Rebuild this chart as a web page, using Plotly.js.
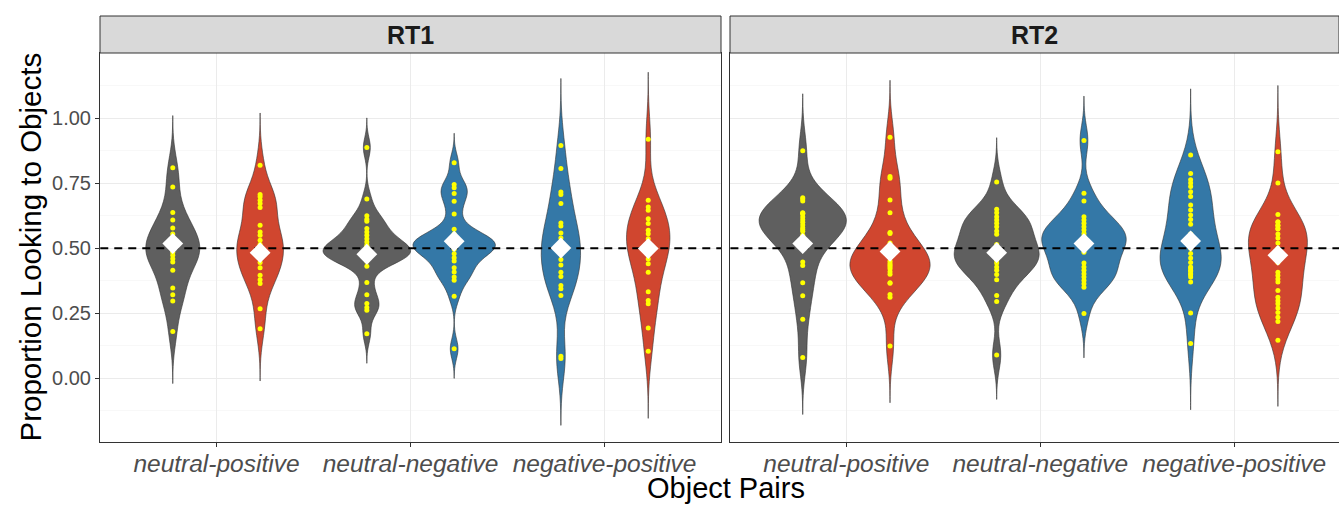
<!DOCTYPE html>
<html>
<head>
<meta charset="utf-8">
<script src="https://cdn.plot.ly/plotly-3.0.1.min.js"></script>
<style>html,body{margin:0;padding:0;background:#fff;}</style>
</head>
<body>
<div id="chart" style="width:1339px;height:505px;"></div>
<script>
// ---------------- data ----------------
const facets = ['RT1', 'RT2'];
const categories = ['neutral-positive', 'neutral-negative', 'negative-positive'];
const leftObject = ['neutral', 'neutral', 'negative'];
const rightObject = ['positive', 'negative', 'positive'];

// RT1 proportions (individual points)
const rt1_np_neutral  = [0.810, 0.736, 0.638, 0.609, 0.578, 0.555, 0.535, 0.515, 0.500, 0.485, 0.473, 0.460, 0.447, 0.415, 0.347, 0.321, 0.297, 0.180];
const rt1_np_positive = [0.820, 0.707, 0.698, 0.685, 0.672, 0.657, 0.589, 0.563, 0.550, 0.531, 0.515, 0.500, 0.485, 0.465, 0.445, 0.425, 0.396, 0.379, 0.364, 0.267, 0.190];
const rt1_nn_neutral  = [0.888, 0.690, 0.625, 0.612, 0.604, 0.576, 0.563, 0.550, 0.537, 0.524, 0.512, 0.505, 0.500, 0.495, 0.490, 0.485, 0.480, 0.475, 0.470, 0.465, 0.460, 0.450, 0.431, 0.368, 0.321, 0.287, 0.272, 0.261, 0.171];
const rt1_nn_negative = [0.829, 0.746, 0.733, 0.711, 0.681, 0.632, 0.573, 0.555, 0.545, 0.535, 0.525, 0.520, 0.515, 0.510, 0.505, 0.500, 0.496, 0.479, 0.464, 0.451, 0.425, 0.409, 0.389, 0.377, 0.315, 0.113];
const rt1_pn_negative = [0.896, 0.807, 0.717, 0.707, 0.672, 0.597, 0.586, 0.559, 0.540, 0.520, 0.500, 0.480, 0.457, 0.436, 0.408, 0.391, 0.357, 0.344, 0.318, 0.084, 0.076];
const rt1_pn_positive = [0.920, 0.685, 0.659, 0.646, 0.614, 0.595, 0.569, 0.556, 0.537, 0.520, 0.500, 0.480, 0.459, 0.440, 0.408, 0.333, 0.299, 0.286, 0.193, 0.103];

// RT2 proportions (individual points)
const rt2_np_neutral  = [0.876, 0.695, 0.690, 0.682, 0.637, 0.635, 0.632, 0.620, 0.610, 0.600, 0.590, 0.579, 0.572, 0.566, 0.550, 0.535, 0.447, 0.434, 0.367, 0.317, 0.227, 0.079];
const rt2_np_positive = [0.928, 0.776, 0.770, 0.686, 0.637, 0.561, 0.557, 0.520, 0.500, 0.480, 0.465, 0.450, 0.441, 0.435, 0.428, 0.421, 0.410, 0.400, 0.367, 0.365, 0.322, 0.311, 0.124];
const rt2_nn_neutral  = [0.755, 0.650, 0.637, 0.621, 0.609, 0.596, 0.583, 0.567, 0.554, 0.515, 0.505, 0.495, 0.485, 0.475, 0.465, 0.455, 0.443, 0.428, 0.415, 0.399, 0.379, 0.318, 0.295, 0.089];
const rt2_nn_negative = [0.915, 0.712, 0.682, 0.621, 0.609, 0.596, 0.583, 0.570, 0.557, 0.545, 0.535, 0.525, 0.515, 0.505, 0.495, 0.485, 0.443, 0.428, 0.415, 0.402, 0.389, 0.376, 0.363, 0.350, 0.249];
const rt2_pn_negative = [0.859, 0.788, 0.764, 0.751, 0.738, 0.718, 0.699, 0.667, 0.647, 0.628, 0.611, 0.593, 0.555, 0.540, 0.520, 0.510, 0.500, 0.480, 0.463, 0.445, 0.428, 0.424, 0.415, 0.411, 0.402, 0.398, 0.389, 0.370, 0.251, 0.133];
const rt2_pn_positive = [0.872, 0.751, 0.630, 0.602, 0.600, 0.589, 0.587, 0.576, 0.574, 0.555, 0.540, 0.520, 0.500, 0.490, 0.480, 0.460, 0.445, 0.408, 0.395, 0.382, 0.370, 0.337, 0.311, 0.298, 0.286, 0.270, 0.253, 0.234, 0.218, 0.146];

// means (white diamonds)
const rt1_left_means  = [0.518, 0.477, 0.501];
const rt1_right_means = [0.483, 0.527, 0.499];
const rt2_left_means  = [0.518, 0.483, 0.528];
const rt2_right_means = [0.488, 0.518, 0.473];

// kernel bandwidths (per category)
const rt1_bandwidths = [0.067, 0.038, 0.086];
const rt2_bandwidths = [0.073, 0.057, 0.085];

const chanceLevel = 0.5;
const yTicks = [0, 0.25, 0.5, 0.75, 1.0];

// ---------------- styling ----------------
const FONT = 'Liberation Sans, Arial, sans-serif';
const colorOf = { neutral: '#5F5F5F', positive: '#D0462F', negative: '#3478A7' };
const xRange1 = [0.4, 3.6];
const xRange2 = [0.4, 3.54];   // right panel is cut by the image edge
const yRange = [-0.246, 1.252];

const facetData = [
  { left: [rt1_np_neutral, rt1_nn_neutral, rt1_pn_negative], right: [rt1_np_positive, rt1_nn_negative, rt1_pn_positive],
    lm: rt1_left_means, rm: rt1_right_means, bw: rt1_bandwidths, xr: xRange1 },
  { left: [rt2_np_neutral, rt2_nn_neutral, rt2_pn_negative], right: [rt2_np_positive, rt2_nn_negative, rt2_pn_positive],
    lm: rt2_left_means, rm: rt2_right_means, bw: rt2_bandwidths, xr: xRange2 }
];

const traces = [];
const catPos = categories.map((c, i) => i + 1);

facetData.forEach((fd, f) => {
  const sx = f === 0 ? 'x' : 'x2';
  const sy = f === 0 ? 'y' : 'y2';
  categories.forEach((cat, i) => {
    [['L', fd.left[i], leftObject[i]], ['R', fd.right[i], rightObject[i]]].forEach(([grp, vals, obj]) => {
      const bw = fd.bw[i];
      const lo = Math.min(...vals) - 3 * bw;
      const hi = Math.max(...vals) + 3 * bw;
      traces.push({
        type: 'violin', x0: catPos[i], y: vals, xaxis: sx, yaxis: sy,
        offsetgroup: grp, scalegroup: facets[f], scalemode: 'width',
        bandwidth: bw, spanmode: 'manual', span: [lo, hi],
        fillcolor: colorOf[obj], opacity: 1,
        line: { color: '#333333', width: 0.6 },
        points: 'all', pointpos: 0, jitter: 0,
        marker: { color: '#FFFF00', size: 5, line: { width: 0 } },
        showlegend: false, hoverinfo: 'skip', name: facets[f] + ' ' + cat + ' ' + obj
      });
    });
  });
  // dashed chance line (between violins and diamonds)
  traces.push({
    type: 'scatter', mode: 'lines', xaxis: sx, yaxis: sy, offsetgroup: 'L',
    x: [fd.xr[0] - 1, fd.xr[1] + 1], y: [chanceLevel, chanceLevel],
    line: { color: '#000000', width: 2, dash: '8px,6px' }, showlegend: false, hoverinfo: 'skip'
  });
  // mean diamonds
  [['L', fd.lm], ['R', fd.rm]].forEach(([grp, m]) => {
    traces.push({
      type: 'scatter', mode: 'markers', xaxis: sx, yaxis: sy, offsetgroup: grp,
      x: catPos, y: m,
      marker: { symbol: 'diamond', color: '#FFFFFF', size: 16, line: { width: 0 } },
      showlegend: false, hoverinfo: 'skip'
    });
  });
});

const xCommon = {
  type: 'linear', tickvals: catPos, ticktext: categories,
  tickfont: { family: FONT, size: 24.5, color: '#4D4D4D', style: 'italic' },
  ticks: 'outside', ticklen: 4, tickcolor: '#333333', tickwidth: 1, ticklabelstandoff: -4,
  showgrid: true, gridcolor: '#EBEBEB', gridwidth: 1, zeroline: false,
  showline: true, linecolor: '#333333', linewidth: 1, mirror: true
};
const yCommon = {
  range: yRange, tickvals: yTicks, tickformat: '.2f',
  tickfont: { family: FONT, size: 20, color: '#4D4D4D' },
  showgrid: true, gridcolor: '#EBEBEB', gridwidth: 1, zeroline: false,
  minor: { dtick: 0.125, tick0: 0, showgrid: true, gridcolor: '#F3F3F3', gridwidth: 0.6, ticks: '' },
  showline: true, linecolor: '#333333', linewidth: 1
};

const plotH = 505 - 53 - 63;
const stripTop = 1 + 37 / plotH;

const layout = {
  width: 1339, height: 505,
  margin: { l: 100, r: 0, t: 53, b: 63 },
  paper_bgcolor: '#FFFFFF', plot_bgcolor: '#FFFFFF',
  violinmode: 'group', violingap: 0.1, violingroupgap: 0,
  scattermode: 'group', scattergap: 0.1,
  hovermode: false, showlegend: false,
  font: { family: FONT },
  xaxis: Object.assign({}, xCommon, { domain: [0, 621 / 1239], range: xRange1, anchor: 'y' }),
  xaxis2: Object.assign({}, xCommon, { domain: [630 / 1239, 1], range: xRange2, anchor: 'y2' }),
  yaxis: Object.assign({}, yCommon, { anchor: 'x', ticks: 'outside', ticklen: 4, tickcolor: '#333333', mirror: true }),
  yaxis2: Object.assign({}, yCommon, { anchor: 'x2', matches: 'y', showticklabels: false, ticks: '', mirror: false }),
  shapes: facets.map((f, k) => ({
    type: 'rect', xref: (k === 0 ? 'x' : 'x2') + ' domain', yref: 'paper',
    x0: 0, x1: 1, y0: 1, y1: stripTop,
    fillcolor: '#D9D9D9', line: { color: '#333333', width: 1 }, layer: 'above'
  })),
  annotations: facets.map((f, k) => ({
    text: '<b>' + f + '</b>', xref: (k === 0 ? 'x' : 'x2') + ' domain', yref: 'paper',
    x: 0.5, y: (1 + stripTop) / 2, xanchor: 'center', yanchor: 'middle', showarrow: false,
    font: { family: FONT, size: 25, color: '#1A1A1A' }
  })).concat([
    { text: 'Proportion Looking to Objects', textangle: -90, xref: 'paper', yref: 'paper',
      x: -70 / 1239, y: 0.5, xanchor: 'center', yanchor: 'middle', showarrow: false,
      font: { family: FONT, size: 29.5, color: '#000000' } },
    { text: 'Object Pairs', xref: 'paper', yref: 'paper',
      x: 625.5 / 1239, y: -46 / plotH, xanchor: 'center', yanchor: 'middle', showarrow: false,
      font: { family: FONT, size: 29, color: '#000000' } }
  ])
};

Plotly.newPlot('chart', traces, layout, { displayModeBar: false, staticPlot: true });
</script>
</body>
</html>
